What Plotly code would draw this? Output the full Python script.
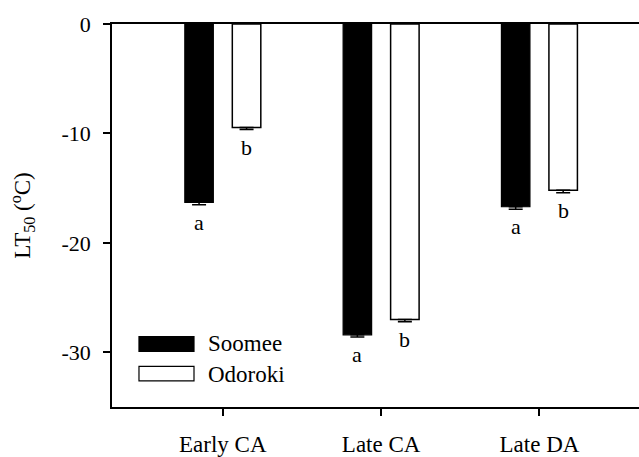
import plotly.graph_objects as go

categories = ["Early CA", "Late CA", "Late DA"]
series_names = ["Soomee", "Odoroki"]
soomee = [-16.3, -28.4, -16.7]
soomee_err = [0.22, 0.2, 0.22]
odoroki = [-9.45, -27.0, -15.2]
odoroki_err = [0.2, 0.22, 0.22]
soomee_letters = ["a", "a", "a"]
odoroki_letters = ["b", "b", "b"]
y_ticks = [0, -10, -20, -30]

FONT = "Times New Roman, Liberation Serif, DejaVu Serif, serif"
xpos = list(range(len(categories)))
off = 0.15

fig = go.Figure()
fig.add_trace(go.Bar(
    x=xpos, y=soomee, name=series_names[0],
    marker=dict(color="black", line=dict(color="black", width=1.2)),
    error_y=dict(type="data", symmetric=False, array=[0]*3, arrayminus=soomee_err,
                 color="black", thickness=1.5, width=7),
    showlegend=False))
fig.add_trace(go.Bar(
    x=xpos, y=odoroki, name=series_names[1],
    marker=dict(color="white", line=dict(color="black", width=1.5)),
    error_y=dict(type="data", symmetric=False, array=[0]*3, arrayminus=odoroki_err,
                 color="black", thickness=1.5, width=7),
    showlegend=False))

for i in xpos:
    fig.add_annotation(x=i - off, y=soomee[i] - soomee_err[i], text=soomee_letters[i],
                       showarrow=False, yanchor="top", yshift=-3,
                       font=dict(family=FONT, size=22, color="black"))
    fig.add_annotation(x=i + off, y=odoroki[i] - odoroki_err[i], text=odoroki_letters[i],
                       showarrow=False, yanchor="top", yshift=-3,
                       font=dict(family=FONT, size=22, color="black"))

# custom legend
fig.add_shape(type="rect", xref="paper", yref="paper", x0=0.0512, x1=0.1556, y0=0.145, y1=0.184,
              fillcolor="black", line=dict(color="black", width=1.2))
fig.add_shape(type="rect", xref="paper", yref="paper", x0=0.0512, x1=0.1556, y0=0.068, y1=0.106,
              fillcolor="white", line=dict(color="black", width=1.2))
fig.add_annotation(xref="paper", yref="paper", x=0.178, y=0.165, text=series_names[0],
                   showarrow=False, xanchor="left", yanchor="middle",
                   font=dict(family=FONT, size=23, color="black"))
fig.add_annotation(xref="paper", yref="paper", x=0.178, y=0.086, text=series_names[1],
                   showarrow=False, xanchor="left", yanchor="middle",
                   font=dict(family=FONT, size=23, color="black"))

fig.update_layout(
    width=639, height=457,
    margin=dict(l=112, r=0, t=24, b=45),
    paper_bgcolor="white", plot_bgcolor="white",
    barmode="group", bargap=0.4, bargroupgap=0.4,
    font=dict(family=FONT, size=22, color="black"),
    xaxis=dict(range=[-0.7, 2.629], tickvals=xpos, ticktext=categories,
               showline=True, linecolor="black", linewidth=1.5, mirror=True,
               ticks="outside", ticklen=7, tickwidth=1.5, tickcolor="black",
               showgrid=False, zeroline=False, ticklabelstandoff=9,
               tickfont=dict(family=FONT, size=23, color="black")),
    yaxis=dict(range=[-35, 0], tickvals=y_ticks, ticktext=[str(v) for v in y_ticks],
               showline=True, linecolor="black", linewidth=1.5,
               ticks="outside", ticklen=7, tickwidth=1.5, tickcolor="black",
               showgrid=False, zeroline=False, ticklabelstandoff=8,
               tickfont=dict(family=FONT, size=22, color="black"),
               title=dict(text="LT<sub>50</sub> (<sup>o</sup>C)", standoff=24,
                          font=dict(family=FONT, size=23, color="black"))),
)

fig.write_html("out.html")
